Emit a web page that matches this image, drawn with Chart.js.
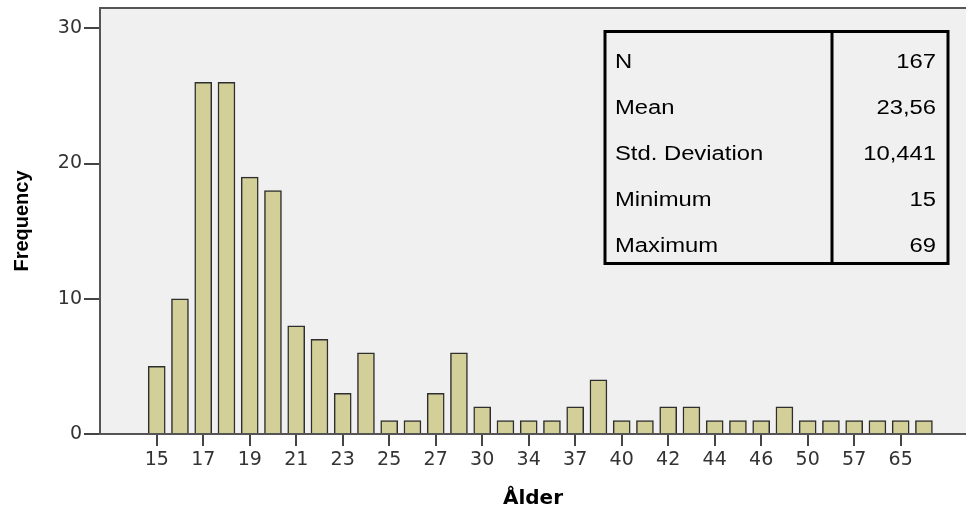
<!DOCTYPE html>
<html>
<head>
<meta charset="utf-8">
<script src="https://cdn.jsdelivr.net/npm/chart.js@4"></script>
<style>
  html, body { margin: 0; padding: 0; background: #fff; }
</style>
</head>
<body>
<canvas id="hist" width="966" height="510"></canvas>
<script>
// age categories (one bar each) and their counts
const ages = [15, 16, 17, 18, 19, 20, 21, 22, 23, 24, 25, 26, 27, 28, 30, 32, 34, 35,
              37, 38, 40, 41, 42, 43, 44, 45, 46, 48, 50, 52, 57, 60, 65, 69];
const freq = [5, 10, 26, 26, 19, 18, 8, 7, 3, 6, 1, 1, 3, 6, 2, 1, 1, 1,
              2, 4, 1, 1, 2, 2, 1, 1, 1, 2, 1, 1, 1, 1, 1, 1];

// labelled ticks on the x axis, and y ticks
const xTickLabels = ["15", "17", "19", "21", "23", "25", "27", "30", "34", "37",
                     "40", "42", "44", "46", "50", "57", "65"];
const yTicks = [0, 10, 20, 30];

// statistics box
const statLabels = ["N", "Mean", "Std. Deviation", "Minimum", "Maximum"];
const statValues = ["167", "23,56", "10,441", "15", "69"];

const tickFont = { family: "DejaVu Sans", size: 19 };

// plot background + top frame line
const frame = {
  id: "frame",
  beforeDraw(chart) {
    const { ctx, chartArea: a } = chart;
    ctx.save();
    ctx.fillStyle = "#f0f0f0";
    ctx.fillRect(a.left, a.top, a.right - a.left, a.bottom - a.top);
    ctx.strokeStyle = "#555";
    ctx.lineWidth = 2;
    ctx.beginPath();
    ctx.moveTo(a.left, a.top);
    ctx.lineTo(a.right, a.top);
    ctx.stroke();
    ctx.restore();
  }
};

// the stats table in the top right
const statsBox = {
  id: "statsBox",
  afterDraw(chart) {
    const ctx = chart.ctx;
    const x0 = 605, y0 = 31.5, w = 343, h = 232, mid = 832;
    ctx.save();
    ctx.strokeStyle = "#000";
    ctx.lineWidth = 3;
    ctx.strokeRect(x0, y0, w, h);
    ctx.beginPath();
    ctx.moveTo(mid, y0);
    ctx.lineTo(mid, y0 + h);
    ctx.stroke();

    ctx.fillStyle = "#000";
    ctx.font = "20px 'Liberation Sans'";
    ctx.textBaseline = "alphabetic";
    statLabels.forEach((lab, i) => {
      const y = 68 + i * 46;
      ctx.save();
      ctx.translate(615, y);
      ctx.scale(1.19, 1);
      ctx.textAlign = "left";
      ctx.fillText(lab, 0, 0);
      ctx.restore();

      ctx.save();
      ctx.translate(936, y);
      ctx.scale(1.19, 1);
      ctx.textAlign = "right";
      ctx.fillText(statValues[i], 0, 0);
      ctx.restore();
    });
    ctx.restore();
  }
};

new Chart(document.getElementById("hist"), {
  type: "bar",
  data: {
    datasets: [{
      label: "Frequency",
      data: freq.map((f, i) => ({ x: i, y: f })),
      backgroundColor: "#d3cf98",
      borderColor: "#2e2e2e",
      borderWidth: 1.5,
      barThickness: 17
    }]
  },
  options: {
    responsive: false,
    animation: false,
    devicePixelRatio: 1,
    layout: { padding: { top: 8, right: 0, left: 0, bottom: 0 } },
    plugins: {
      legend: { display: false },
      tooltip: { enabled: false }
    },
    scales: {
      x: {
        type: "linear",
        offset: false,
        min: -2.44,
        max: 34.81,
        afterBuildTicks: s => {
          s.ticks = xTickLabels.map(l => ({ value: ages.indexOf(Number(l)) }));
        },
        afterFit: s => {
          s.height = 76;
          s.paddingLeft = 0;
          s.paddingRight = 0;
        },
        grid: {
          offset: false,
          drawOnChartArea: false,
          drawTicks: true,
          tickLength: 12,
          color: "#444",
          lineWidth: 2
        },
        border: { display: true, color: "#555", width: 2 },
        ticks: {
          callback: v => String(ages[v]),
          color: "#333",
          font: tickFont,
          padding: 3,
          maxRotation: 0,
          autoSkip: false
        },
        title: {
          display: true,
          text: "Ålder",
          color: "#000",
          font: { family: "DejaVu Sans", size: 20, weight: "bold", lineHeight: 1.1 },
          padding: 0
        }
      },
      y: {
        min: 0,
        max: 31.5,
        afterBuildTicks: s => {
          s.ticks = yTicks.map(v => ({ value: v }));
        },
        afterFit: s => {
          s.width = 100;
          s.paddingTop = 0;
          s.paddingBottom = 0;
        },
        grid: {
          drawOnChartArea: false,
          drawTicks: true,
          tickLength: 16,
          color: "#444",
          lineWidth: 2
        },
        border: { display: true, color: "#555", width: 2 },
        ticks: {
          color: "#333",
          font: tickFont,
          padding: 2
        },
        title: {
          display: true,
          text: "Frequency",
          color: "#000",
          font: { family: "Liberation Sans", size: 20, weight: "bold" },
          padding: { top: 10 }
        }
      }
    }
  },
  plugins: [frame, statsBox]
});
</script>
</body>
</html>
